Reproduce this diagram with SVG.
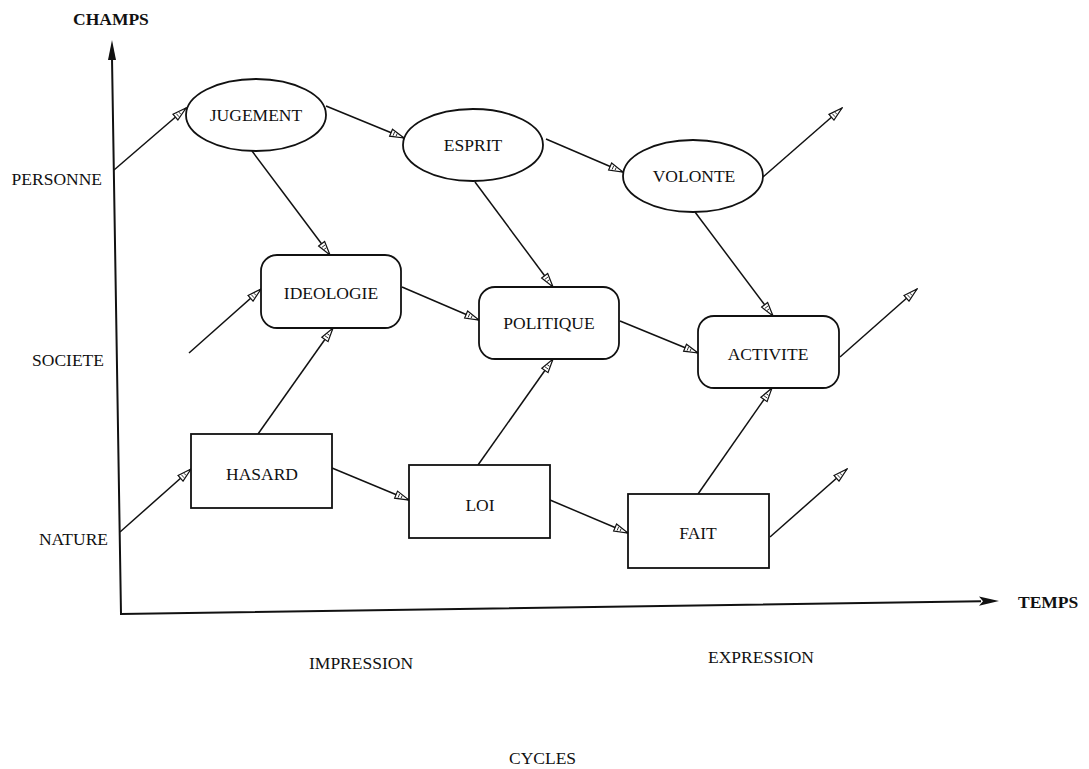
<svg xmlns="http://www.w3.org/2000/svg" width="1089" height="769" viewBox="0 0 1089 769">
<style>
  text { font-family: "Liberation Serif", "Times New Roman", serif; font-size: 17.5px; fill: #111; }
  .b { font-weight: bold; }
  .node { fill: #fff; stroke: #111; stroke-width: 1.8; }
  .conn { stroke: #111; stroke-width: 1.5; fill: none; marker-end: url(#arr); }
  .axis { stroke: #111; stroke-width: 2; fill: none; }
  .mid { text-anchor: middle; }
  .end { text-anchor: end; }
</style>
<defs>
  <marker id="arr" markerUnits="userSpaceOnUse" markerWidth="16" markerHeight="10" viewBox="0 0 16 10" refX="15" refY="5" orient="auto">
    <path d="M1,1.2 L15,5 L1,8.8 z" fill="#fff" stroke="#111" stroke-width="1.2"/>
    <path d="M4,3 L4,7 M7,3.6 L7,6.4" stroke="#111" stroke-width="0.8"/>
  </marker>
</defs>
<rect width="1089" height="769" fill="#fff"/>

<g id="axes">
  <path class="axis" d="M112,58 L121,614 L981,601.3"/>
  <polygon points="112,40 116,60 108,60" fill="#111"/>
  <polygon points="999,601 979,596.5 983,601.2 979,605.8" fill="#111"/>
</g>

<g id="labels">
  <text class="b" x="73" y="25">CHAMPS</text>
  <text class="b" x="1018" y="608">TEMPS</text>
  <text class="end" x="102" y="185">PERSONNE</text>
  <text class="end" x="104" y="366">SOCIETE</text>
  <text class="end" x="108" y="545">NATURE</text>
  <text x="309" y="669">IMPRESSION</text>
  <text x="708" y="663">EXPRESSION</text>
  <text x="509" y="764">CYCLES</text>
</g>

<g id="connectors">
  <line class="conn" x1="114" y1="170" x2="186" y2="108"/>
  <line class="conn" x1="326" y1="106" x2="404" y2="138"/>
  <line class="conn" x1="252" y1="151" x2="330" y2="255"/>
  <line class="conn" x1="546" y1="139" x2="623" y2="172"/>
  <line class="conn" x1="475" y1="182" x2="553" y2="287"/>
  <line class="conn" x1="763" y1="177" x2="842" y2="108"/>
  <line class="conn" x1="695" y1="212" x2="773" y2="316"/>
  <line class="conn" x1="189" y1="353" x2="261" y2="289"/>
  <line class="conn" x1="402" y1="287" x2="479" y2="320"/>
  <line class="conn" x1="258" y1="434" x2="333" y2="328"/>
  <line class="conn" x1="120" y1="532" x2="191" y2="469"/>
  <line class="conn" x1="332" y1="468" x2="409" y2="500"/>
  <line class="conn" x1="478" y1="465" x2="553" y2="359"/>
  <line class="conn" x1="620" y1="321" x2="698" y2="353"/>
  <line class="conn" x1="840" y1="357" x2="917" y2="289"/>
  <line class="conn" x1="550" y1="500" x2="628" y2="533"/>
  <line class="conn" x1="698" y1="494" x2="772" y2="388"/>
  <line class="conn" x1="770" y1="537" x2="847" y2="469"/>
</g>

<g id="jugement">
  <ellipse class="node" cx="256" cy="115" rx="70" ry="36"/>
  <text class="mid" x="256" y="121">JUGEMENT</text>
</g>
<g id="esprit">
  <ellipse class="node" cx="473" cy="145" rx="70" ry="36"/>
  <text class="mid" x="473" y="151">ESPRIT</text>
</g>
<g id="volonte">
  <ellipse class="node" cx="693" cy="176" rx="70" ry="36"/>
  <text class="mid" x="694" y="182">VOLONTE</text>
</g>
<g id="ideologie">
  <rect class="node" x="261" y="255" width="140" height="73" rx="16"/>
  <text class="mid" x="331" y="299">IDEOLOGIE</text>
</g>
<g id="politique">
  <rect class="node" x="479" y="287" width="140" height="72" rx="16"/>
  <text class="mid" x="549" y="329">POLITIQUE</text>
</g>
<g id="activite">
  <rect class="node" x="698" y="316" width="141" height="72" rx="16"/>
  <text class="mid" x="768" y="360">ACTIVITE</text>
</g>
<g id="hasard">
  <rect class="node" x="191" y="434" width="141" height="74"/>
  <text class="mid" x="262" y="480">HASARD</text>
</g>
<g id="loi">
  <rect class="node" x="409" y="465" width="141" height="73"/>
  <text class="mid" x="480" y="511">LOI</text>
</g>
<g id="fait">
  <rect class="node" x="628" y="494" width="141" height="74"/>
  <text class="mid" x="698" y="539">FAIT</text>
</g>
</svg>
